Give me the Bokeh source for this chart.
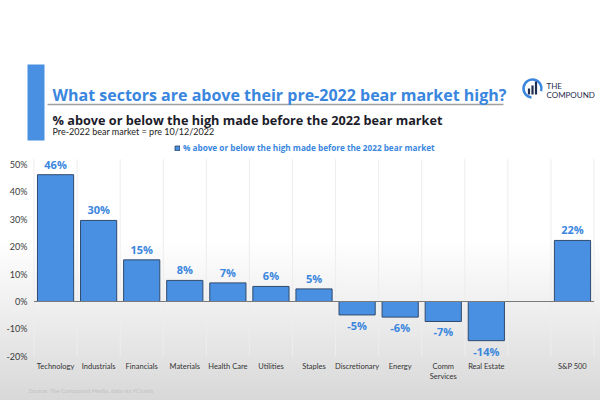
from bokeh.plotting import figure
from bokeh.models import (Range1d, FixedTicker, Title, ColumnDataSource, Legend, LegendItem,
                          Label, BoxAnnotation)
from bokeh.embed import file_html
from bokeh.resources import INLINE
from bokeh.core.properties import value

# ---------------- data ----------------
categories = ["Technology", "Industrials", "Financials", "Materials", "Health Care",
              "Utilities", "Staples", "Discretionary", "Energy", "Comm\nServices",
              "Real Estate", "S&P 500"]
values = [46.3, 29.6, 15.2, 7.7, 6.8, 5.5, 4.6, -4.9, -5.7, -7.3, -14.3, 22.3]
value_labels = ["46%", "30%", "15%", "8%", "7%", "6%", "5%", "-5%", "-6%", "-7%", "-14%", "22%"]
axis_factors = categories[:11] + [""] + categories[11:]
y_ticks = [-20, -10, 0, 10, 20, 30, 40, 50]
y_tick_labels = ["-20%", "-10%", "0%", "10%", "20%", "30%", "40%", "50%"]

title_text = "What sectors are above their pre-2022 bear market high?"
subtitle_text = "% above or below the high made before the 2022 bear market"
note_text = "Pre-2022 bear market = pre 10/12/2022"
series_name = "% above or below the high made before the 2022 bear market"
source_text = "Source: The Compound Media, data via YCharts"

BLUE = "#4a90e2"
TXT_BLUE = "#3a86de"
FONT = "Lato"
HFONT = "Open Sans"

n_slots = len(axis_factors)
x_pos = [axis_factors.index(c) for c in categories]

p = figure(width=600, height=400, output_backend="svg", toolbar_location=None,
           x_range=Range1d(-1.278, n_slots - 0.35),
           y_range=Range1d(-22.27, 109.9),
           min_border_left=0, min_border_right=0, min_border_top=0, min_border_bottom=38)
p.title.visible = False
p.yaxis.visible = False
p.outline_line_color = None
p.background_fill_color = None
p.border_fill_color = None
p.styles = {"background": "linear-gradient(180deg, #ffffff 0%, #ffffff 60%, #eeeeee 78%, #d8d8d8 100%)"}
p.xgrid.grid_line_color = None
p.ygrid.grid_line_color = None

# pixel-like helper ranges (image pixels) for header decorations
p.extra_x_ranges["px"] = Range1d(0, 600)
p.extra_y_ranges["px"] = Range1d(362, 0)

# x axis
p.xaxis.ticker = FixedTicker(ticks=list(range(n_slots)))
p.xaxis.major_label_overrides = {i: name for i, name in enumerate(axis_factors)}
p.xaxis.axis_line_color = None
p.xaxis.major_tick_line_color = None
p.xaxis.minor_tick_line_color = None
p.xaxis.major_tick_out = 0
p.xaxis.major_tick_in = 0
p.xaxis.minor_tick_out = 0
p.xaxis.major_label_standoff = -1
p.xaxis.major_label_text_font = FONT
p.xaxis.major_label_text_font_size = "7.5px"
p.xaxis.major_label_text_color = "#333333"

# y tick labels (percent scale)
p.text(x=[27] * len(y_ticks), y=y_ticks, text=y_tick_labels, x_range_name="px",
       text_align="right", text_baseline="middle", text_font=value(FONT),
       text_font_size=value("9px"), text_color="#3a3a3a")

# faint separators between categories
sep_x = [i - 0.5 for i in range(n_slots + 1)]
p.segment(x0=sep_x, y0=[-20] * len(sep_x), x1=sep_x, y1=[52] * len(sep_x),
          line_color="#ededed", line_width=1)

src = ColumnDataSource(dict(x=x_pos, val=values, lab=value_labels))
bars = p.vbar(x="x", top="val", bottom=0, width=0.84, source=src,
              fill_color=BLUE, line_color="#2f4a6d", line_width=1)

# zero line
p.segment(x0=[sep_x[0]], y0=[0], x1=[sep_x[-1]], y1=[0], line_color="#7a7a7a", line_width=1)

# value labels
pos = ColumnDataSource(dict(x=[x for x, v in zip(x_pos, values) if v >= 0],
                            val=[v for v in values if v >= 0],
                            lab=[l for l, v in zip(value_labels, values) if v >= 0]))
neg = ColumnDataSource(dict(x=[x for x, v in zip(x_pos, values) if v < 0],
                            val=[v for v in values if v < 0],
                            lab=[l for l, v in zip(value_labels, values) if v < 0]))
p.text(x="x", y="val", text="lab", source=pos, text_align="center", text_baseline="bottom",
       y_offset=-3, text_font=value(HFONT), text_font_style="bold", text_font_size=value("11px"),
       text_color=TXT_BLUE)
p.text(x="x", y="val", text="lab", source=neg, text_align="center", text_baseline="top",
       y_offset=3, text_font=value(HFONT), text_font_style="bold", text_font_size=value("11px"),
       text_color=TXT_BLUE)

# legend
legend = Legend(items=[LegendItem(label=series_name, renderers=[bars])],
                location=(174, 209), orientation="horizontal",
                glyph_width=6, glyph_height=6, label_height=8, label_width=10,
                label_standoff=3, padding=0, margin=0, spacing=0,
                border_line_color=None, background_fill_alpha=0,
                label_text_font=HFONT, label_text_font_style="bold",
                label_text_font_size="8.2px", label_text_color=TXT_BLUE)
p.add_layout(legend, "center")

# header
p.add_layout(BoxAnnotation(left=27, right=44, top=64, bottom=140, x_range_name="px", y_range_name="px",
                           fill_color=BLUE, fill_alpha=1, line_color=None))
p.segment(x0=[47], y0=[104], x1=[503], y1=[104], x_range_name="px", y_range_name="px",
          line_color="#a0a0a0", line_width=1.5)
p.add_layout(Label(x=52, y=94, text=title_text, x_range_name="px", y_range_name="px",
                   text_font=HFONT, text_font_style="bold", text_font_size="16px",
                   text_color=TXT_BLUE, text_baseline="middle"))
p.add_layout(Label(x=52, y=119, text=subtitle_text, x_range_name="px", y_range_name="px",
                   text_font=HFONT, text_font_style="bold", text_font_size="12.7px",
                   text_color="#1c1c2a", text_baseline="middle"))
p.add_layout(Label(x=52, y=131, text=note_text, x_range_name="px", y_range_name="px",
                   text_font=FONT, text_font_size="9px",
                   text_color="#222222", text_baseline="middle"))

# logo
p.arc(x=[532], y=[88], radius=9, start_angle=-0.3, end_angle=4.6, x_range_name="px", y_range_name="px",
      line_color=TXT_BLUE, line_width=2.5)
p.vbar(x=[528.5, 532, 535.5], top=[88, 85, 81], bottom=[94, 94, 94], width=2.2,
       x_range_name="px", y_range_name="px", fill_color="#1f2d4f", line_color=None)
p.add_layout(Label(x=546, y=85, text="THE", x_range_name="px", y_range_name="px",
                   text_font=FONT, text_font_size="8px", text_color="#1f2d4f", text_baseline="middle"))
p.add_layout(Label(x=546, y=94, text="COMPOUND", x_range_name="px", y_range_name="px",
                   text_font=FONT, text_font_size="8px", text_color="#1f2d4f", text_baseline="middle"))

# source
p.add_layout(Title(text=source_text, align="left", offset=28, standoff=0, text_font=FONT,
                   text_font_size="6px", text_font_style="normal", text_color="#c2c2c2"), "below")

open("out.html", "w").write(file_html(p, INLINE))
